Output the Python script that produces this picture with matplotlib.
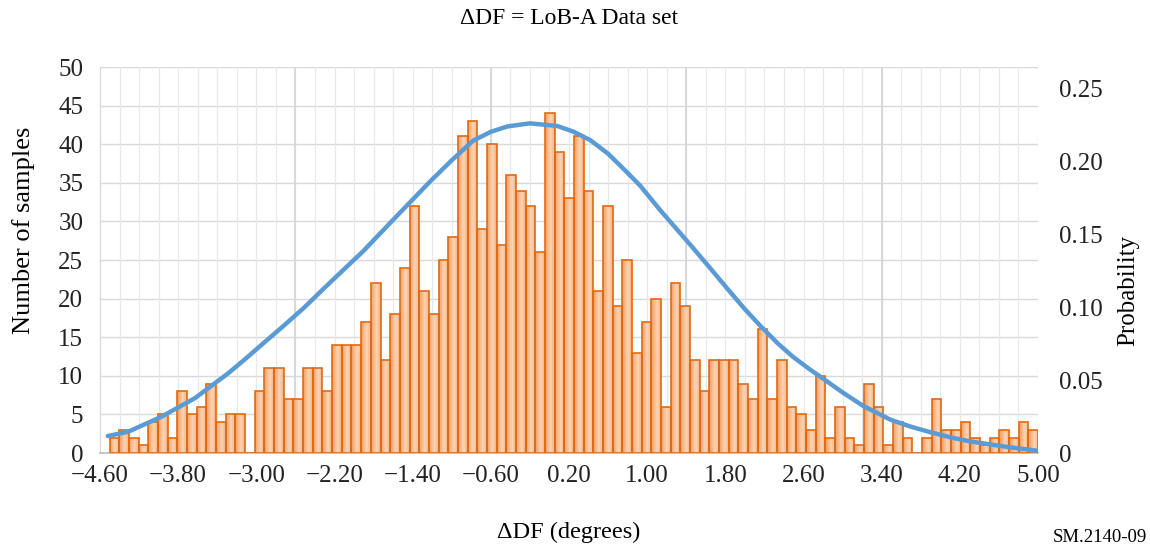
import numpy as np
import matplotlib
matplotlib.use("Agg")
import matplotlib.pyplot as plt
from matplotlib.ticker import FixedLocator
from matplotlib.path import Path
from matplotlib.colors import to_rgb

plt.rcParams['font.family'] = ['Liberation Serif', 'DejaVu Serif']

# histogram counts, 0.1-degree bins from -4.5 to 5.0
counts = [2, 3, 2, 1, 4, 5, 2, 8, 5, 6, 9, 4, 5, 5, 0,
          8, 11, 11, 7, 7, 11, 11, 8,
          14, 14, 14, 17, 22, 12, 18, 24, 32, 21, 18, 25, 28,
          41, 43, 29, 40, 27, 36, 34, 32, 26, 44, 39, 33, 41, 34,
          21, 32, 19, 25, 13, 17, 20, 6, 22, 19, 12, 8, 12, 12, 12, 9, 7, 16, 7, 12, 6, 5, 3,
          10, 2, 6, 2, 1, 9, 6, 1, 4, 2, 0, 2, 7, 3, 3, 4, 2, 1, 2, 3, 2, 4, 3]
bin_lo, bin_hi = -4.5, 5.0

# fitted probability curve
curve_x = [-4.52, -4.31, -3.97, -3.63, -3.29, -3.12, -2.94, -2.73, -2.52, -2.25,
           -1.91, -1.56, -1.22, -1.00, -0.78, -0.60, -0.43, -0.20, 0.08, 0.25,
           0.42, 0.60, 0.79, 0.93, 1.13, 1.46, 1.64, 1.82, 2.00, 2.16, 2.33, 2.49,
           2.67, 2.77, 3.00, 3.21, 3.49, 3.70, 3.90, 4.10, 4.30, 4.68, 4.99]
curve_p = [0.0116, 0.0146, 0.0249, 0.0375, 0.0545, 0.0640, 0.0745, 0.0866, 0.0990, 0.1165,
           0.1380, 0.1625, 0.1861, 0.2005, 0.2140, 0.2200, 0.2237, 0.2258, 0.2240, 0.2200,
           0.2142, 0.2050, 0.1925, 0.1830, 0.1666, 0.1412, 0.1270, 0.1126, 0.0985, 0.0870,
           0.0755, 0.0660, 0.0570, 0.0524, 0.0415, 0.0323, 0.0228, 0.0180, 0.0142, 0.0108,
           0.0080, 0.0042, 0.0016]

xticks = [-4.6, -3.8, -3.0, -2.2, -1.4, -0.6, 0.2, 1.0, 1.8, 2.6, 3.4, 4.2, 5.0]
yticks = [0, 5, 10, 15, 20, 25, 30, 35, 40, 45, 50]
pticks = [0, 0.05, 0.10, 0.15, 0.20, 0.25]

fig = plt.figure(figsize=(11.5, 5.49), dpi=100)
ax = fig.add_axes([100/1150, 1-453/549, 938/1150, 386/549])

edges = np.linspace(bin_lo, bin_hi, len(counts) + 1)
bw = edges[1] - edges[0]
bars = ax.bar(edges[:-1], counts, width=bw, align='edge',
              facecolor='none', edgecolor='#e06a14', linewidth=1.2, zorder=4)

# gradient fill inside every bar (darker edges, light centre)
nsub = 24
t = (np.arange(nsub) + 0.5) / nsub
c_edge = np.array(to_rgb('#f39c5c'))
c_mid = np.array(to_rgb('#fcd4b6'))
w = np.clip(1 - np.abs(t - 0.55) / 0.55, 0, 1) ** 0.8
strip = c_edge[None, :] * (1 - w[:, None]) + c_mid[None, :] * w[:, None]
grad = np.tile(strip, (len(counts), 1))[None, :, :]
im = ax.imshow(grad, extent=(bin_lo, bin_hi, 0, 50), aspect='auto',
               interpolation='bilinear', zorder=3)
rects = [Path.unit_rectangle().transformed(
    matplotlib.transforms.Affine2D().scale(bw, c).translate(x0, 0))
    for x0, c in zip(edges[:-1], counts) if c > 0]
im.set_clip_path(Path.make_compound_path(*rects), ax.transData)

ax.set_xlim(-4.6, 5.0)
ax.set_ylim(0, 50)
ax.set_yticks(yticks)
ax.set_yticklabels([str(v) for v in yticks])
ax.xaxis.set_major_locator(FixedLocator(xticks))
ax.set_xticklabels([f"{x:.2f}".replace('-', '\u2212') for x in xticks])

# gridlines
for v in yticks[1:]:
    ax.axhline(v, color='#d9d9d9', lw=1.0, zorder=0)
for gx in np.arange(-4.4, 5.01, 0.2):
    ax.axvline(gx, color='#e8e8e8', lw=0.9, zorder=0)
for gx in [-2.6, -0.6, 1.4, 3.4]:
    ax.axvline(gx, color='#d6d6d6', lw=1.3, zorder=0)

for s in ['top', 'right']:
    ax.spines[s].set_visible(False)
ax.spines['left'].set_color('#d6d6d6')
ax.spines['bottom'].set_color('#bfbfbf')
ax.spines['bottom'].set_linewidth(1.3)
ax.tick_params(axis='both', length=0, labelsize=18, colors='#222222')
ax.tick_params(axis='x', pad=9)
ax.tick_params(axis='y', pad=12)

ax2 = ax.twinx()
ax2.plot(curve_x, curve_p, color='#5b9bd5', lw=3.2, solid_capstyle='round',
         solid_joinstyle='round', zorder=5)
ax2.set_ylim(0, 0.2644)
ax2.set_yticks(pticks)
ax2.set_yticklabels(['0', '0.05', '0.10', '0.15', '0.20', '0.25'])
ax2.tick_params(axis='y', length=0, labelsize=18, pad=15, colors='#222222')
for s in ax2.spines.values():
    s.set_visible(False)

fig.text(569/1150, 1-19/549, '\u0394DF = LoB-A Data set', ha='center', va='center', fontsize=17)
fig.text(569/1150, 1-532/549, '\u0394DF (degrees)', ha='center', va='center', fontsize=17.5)
fig.text(24/1150, 1-230/549, 'Number of samples', rotation=90, ha='center', va='center', fontsize=19)
fig.text(1128/1150, 1-290/549, 'Probability', rotation=90, ha='center', va='center', fontsize=18)
fig.text(1147/1150, 1-538/549, 'SM.2140-09', ha='right', va='center', fontsize=13.5)

fig.savefig('out.png', dpi=100)
